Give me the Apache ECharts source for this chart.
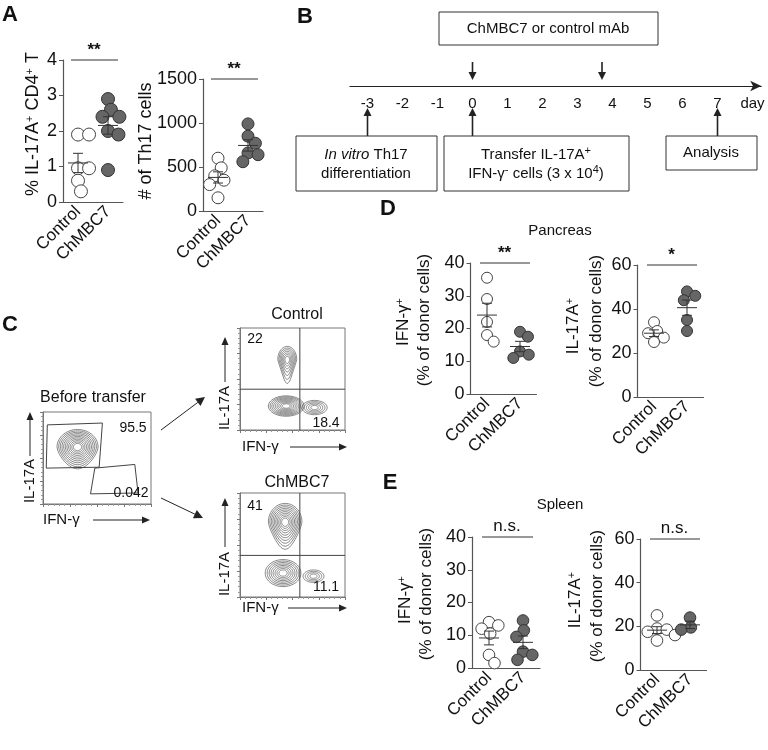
<!DOCTYPE html>
<html>
<head>
<meta charset="utf-8">
<script src="https://cdn.jsdelivr.net/npm/echarts@6/dist/echarts.min.js"></script>
<style>
  html, body { margin: 0; padding: 0; background: #fff; }
  #chart { width: 768px; height: 750px; }
</style>
</head>
<body>
<div id="chart"></div>
<script>
// ---- values ----
const groups = ['Control', 'ChMBC7'];

// A: % IL-17A+ CD4+ T and # of Th17 cells
const th17PctControl = [1.9, 1.9, 0.95, 0.95, 0.6, 0.3];
const th17PctChMBC7 = [2.9, 2.6, 2.4, 2.4, 2.0, 1.9, 0.9];
const th17CountControl = [600, 490, 400, 350, 300, 150];
const th17CountChMBC7 = [990, 850, 770, 660, 640, 560];

// D: pancreas
const pancIfngControl = [35.5, 29, 22, 18, 16];
const pancIfngChMBC7 = [19, 17.5, 13, 12, 11];
const pancIl17Control = [34, 30, 29, 27, 25];
const pancIl17ChMBC7 = [48, 46, 44, 35, 30];

// E: spleen
const splIfngControl = [14, 13, 12, 10.5, 4, 1.5];
const splIfngChMBC7 = [14.5, 11.5, 9.5, 5, 4, 2.5];
const splIl17Control = [25, 19, 18.5, 17.5, 16, 13.5];
const splIl17ChMBC7 = [24, 19.5, 18.5];

// B: timeline (days)
const dayTicks = [-3, -2, -1, 0, 1, 2, 3, 4, 5, 6, 7];
const antibodyDays = [0, 3.7];
const eventDays = [-3, 0, 7];

// C: flow plots, axis units 0-1
const beforeGates = [
  [[0.04, 0.86], [0.55, 0.88], [0.52, 0.40], [0.03, 0.39]],
  [[0.48, 0.39], [0.85, 0.43], [0.88, 0.12], [0.44, 0.11]]
];
// cx, cy, rx, ry, levels, tail (downward stretch of the contour)
const beforePops = [[0.32, 0.62, 0.19, 0.19, 11, 0.25]];
const controlPops = [[0.45, 0.69, 0.09, 0.13, 7, 0.8], [0.44, 0.235, 0.17, 0.10, 9, 0], [0.71, 0.22, 0.12, 0.07, 5, 0]];
const chmbcPops = [[0.43, 0.72, 0.16, 0.18, 10, 0.45], [0.41, 0.23, 0.17, 0.13, 8, 0], [0.70, 0.20, 0.10, 0.06, 4, 0]];
const quadrant = [0.57, 0.40];
const beforePct = ['95.5', '0.042'];
const controlPct = ['22', '18.4'];
const chmbcPct = ['41', '11.1'];

const FONT = 'Liberation Sans, Arial, sans-serif';
const INK = '#222';
const AXIS = '#555';

const chart = echarts.init(document.getElementById('chart'));
const grids = [], xAxes = [], yAxes = [], series = [], graphics = [];

// simple beeswarm so the dots do not pile on top of each other
function swarmOffsets(values, pxPerUnit, r) {
  const placed = [];
  const minD = r * 1.7;
  return values.map(v => {
    const y = v * pxPerUnit;
    const cands = [0];
    placed.forEach(p => {
      const dy = Math.abs(p.y - y);
      if (dy < minD) {
        const w = Math.sqrt(minD * minD - dy * dy);
        cands.push(p.x + w, p.x - w);
      }
    });
    cands.sort((a, b) => Math.abs(a) - Math.abs(b) || b - a);
    const x = cands.find(c => placed.every(p => Math.hypot(p.x - c, p.y - y) >= minD - 0.01));
    placed.push({ x, y });
    return x;
  });
}

function dotPanel(p) {
  const gi = grids.length;
  grids.push({ left: p.left, top: p.top, width: p.width, height: p.height, outerBoundsMode: 'none' });
  xAxes.push({
    gridIndex: gi, type: 'category', data: groups,
    axisLine: { lineStyle: { color: AXIS, width: 1.2 } },
    axisTick: { alignWithLabel: true, interval: 0, length: 4, lineStyle: { color: AXIS } },
    axisLabel: { rotate: 45, interval: 0, hideOverlap: false, fontSize: 17, color: '#111', fontFamily: FONT, margin: 7 }
  });
  yAxes.push({
    gridIndex: gi, type: 'value', min: 0, max: p.max, interval: p.step,
    splitLine: { show: false },
    axisLine: { show: true, lineStyle: { color: AXIS, width: 1.2 } },
    axisTick: { show: true, length: 4, lineStyle: { color: AXIS } },
    axisLabel: { fontSize: 18, color: '#111', fontFamily: FONT, margin: 6, formatter: v => String(v) }
  });
  const ppu = p.height / p.max;
  const pts = [];
  p.sets.forEach((vals, g) => {
    const offs = swarmOffsets(vals, ppu, p.r);
    vals.forEach((v, i) => pts.push([g, v, offs[i]]));
  });
  series.push({
    type: 'custom', xAxisIndex: gi, yAxisIndex: gi, data: pts, z: 2, clip: false,
    renderItem: (params, api) => {
      const c = api.coord([api.value(0), api.value(1)]);
      const filled = api.value(0) === 1;
      return {
        type: 'circle',
        shape: { cx: c[0] + api.value(2), cy: c[1], r: p.r },
        style: { fill: filled ? '#666' : '#fff', stroke: filled ? '#333' : '#444', lineWidth: 1 }
      };
    }
  });
  // mean and SEM
  const stats = p.sets.map((vals, g) => {
    const n = vals.length;
    const m = vals.reduce((a, b) => a + b, 0) / n;
    const sd = Math.sqrt(vals.reduce((a, b) => a + (b - m) * (b - m), 0) / (n - 1));
    return [g, m, sd / Math.sqrt(n)];
  });
  series.push({
    type: 'custom', xAxisIndex: gi, yAxisIndex: gi, data: stats, z: 3, clip: false,
    renderItem: (params, api) => {
      const g = api.value(0), m = api.value(1), se = api.value(2);
      const x = api.coord([g, m])[0];
      const ym = api.coord([g, m])[1];
      const yh = api.coord([g, m + se])[1];
      const yl = api.coord([g, m - se])[1];
      const st = { stroke: '#333', lineWidth: 1 };
      return {
        type: 'group', children: [
          { type: 'line', shape: { x1: x - 10, y1: ym, x2: x + 10, y2: ym }, style: st },
          { type: 'line', shape: { x1: x, y1: yl, x2: x, y2: yh }, style: st },
          { type: 'line', shape: { x1: x - 5, y1: yh, x2: x + 5, y2: yh }, style: st },
          { type: 'line', shape: { x1: x - 5, y1: yl, x2: x + 5, y2: yl }, style: st }
        ]
      };
    }
  });
  // significance bar
  series.push({
    type: 'custom', xAxisIndex: gi, yAxisIndex: gi, data: [[0, p.max]], z: 3, clip: false,
    renderItem: (params, api) => {
      const a = api.coord([0, p.max]);
      const b = api.coord([1, p.max]);
      const isStar = p.sig.indexOf('*') >= 0;
      return {
        type: 'group', children: [
          { type: 'line', shape: { x1: a[0] - 7, y1: a[1], x2: b[0] + 10, y2: a[1] }, style: { stroke: '#333', lineWidth: 1 } },
          {
            type: 'text', x: (a[0] + b[0]) / 2 + 1, y: a[1] - (isStar ? 1 : 2),
            style: {
              text: p.sig, fill: '#111', align: 'center', verticalAlign: 'bottom',
              font: (isStar ? 'bold 17px ' : '17px ') + FONT
            }
          }
        ]
      };
    }
  });
}

dotPanel({ left: 63, top: 60, width: 60, height: 142, max: 4, step: 1, r: 6.5, sets: [th17PctControl, th17PctChMBC7], sig: '**' });
dotPanel({ left: 203, top: 79, width: 60, height: 132, max: 1500, step: 500, r: 6, sets: [th17CountControl, th17CountChMBC7], sig: '**' });
dotPanel({ left: 470.5, top: 263, width: 66, height: 131, max: 40, step: 10, r: 5.5, sets: [pancIfngControl, pancIfngChMBC7], sig: '**' });
dotPanel({ left: 637.5, top: 265, width: 66, height: 132, max: 60, step: 20, r: 5.5, sets: [pancIl17Control, pancIl17ChMBC7], sig: '*' });
dotPanel({ left: 472, top: 537, width: 68, height: 131, max: 40, step: 10, r: 5.8, sets: [splIfngControl, splIfngChMBC7], sig: 'n.s.' });
dotPanel({ left: 640.5, top: 539, width: 66, height: 131, max: 60, step: 20, r: 5.8, sets: [splIl17Control, splIl17ChMBC7], sig: 'n.s.' });

// ---- B: timeline ----
(function () {
  const gi = grids.length;
  grids.push({ left: 350, top: 40, width: 411.25, height: 46, outerBoundsMode: 'none' });
  xAxes.push({
    gridIndex: gi, type: 'value', min: -3.5, max: 8.25, interval: 0.25,
    splitLine: { show: false }, axisTick: { show: false },
    axisLine: { lineStyle: { color: INK, width: 1.2 }, symbol: ['none', 'arrow'], symbolSize: [8, 11] },
    axisLabel: {
      fontSize: 15, color: '#111', fontFamily: FONT, margin: 10, showMinLabel: true, showMaxLabel: true,
      formatter: v => dayTicks.indexOf(v) >= 0 ? String(v) : (v === 8 ? 'day' : '')
    }
  });
  yAxes.push({ gridIndex: gi, type: 'value', min: 0, max: 1, show: false });
  const arrowGroup = (x, tipY, baseY) => {
    const dir = tipY > baseY ? 1 : -1;
    const headBase = tipY - dir * 8;
    return {
      type: 'group', children: [
        { type: 'line', shape: { x1: x, y1: baseY, x2: x, y2: headBase }, style: { stroke: INK, lineWidth: 1.6 } },
        { type: 'polygon', shape: { points: [[x, tipY], [x - 4, headBase], [x + 4, headBase]] }, style: { fill: INK } }
      ]
    };
  };
  series.push({
    type: 'custom', xAxisIndex: gi, yAxisIndex: gi, clip: false,
    data: antibodyDays.map(d => [d, 0]),
    renderItem: (params, api) => arrowGroup(api.coord([api.value(0), 0])[0], 80, 62)
  });
  series.push({
    type: 'custom', xAxisIndex: gi, yAxisIndex: gi, clip: false,
    data: eventDays.map(d => [d, 0]),
    renderItem: (params, api) => arrowGroup(api.coord([api.value(0), 0])[0], 108, 136)
  });
})();

// ---- C: flow plots ----
function flowPanel(f) {
  const gi = grids.length;
  grids.push({ left: f.left, top: f.top, width: f.width, height: f.height, show: true, borderColor: '#777', borderWidth: 1, outerBoundsMode: 'none' });
  const ax = {
    gridIndex: gi, type: 'value', min: 0, max: 1, interval: 0.25,
    splitLine: { show: false }, axisLabel: { show: false },
    axisLine: { show: true, lineStyle: { color: '#777', width: 1 } },
    axisTick: { show: true, length: 3, lineStyle: { color: '#777' } },
    minorTick: { show: true, splitNumber: 5, length: 2, lineStyle: { color: '#999' } }
  };
  xAxes.push(Object.assign({}, ax));
  yAxes.push(Object.assign({}, ax));
  series.push({
    type: 'custom', xAxisIndex: gi, yAxisIndex: gi, data: f.pops, z: 2,
    renderItem: (params, api) => {
      const c = api.coord([api.value(0), api.value(1)]);
      const s = api.size([api.value(2), api.value(3)]);
      const n = api.value(4);
      const tail = api.value(5);
      const children = [];
      for (let i = 1; i <= n; i++) {
        const k = 0.12 + 0.88 * i / n;
        const pts = [];
        for (let a = 0; a < 60; a++) {
          const t = a / 60 * Math.PI * 2;
          const down = Math.max(0, Math.sin(t));            // lower half on screen
          const sy = s[1] * k * (1 + tail * down * down * k);
          const sx = s[0] * k * (1 - 0.35 * tail * down * k);
          pts.push([c[0] + sx * Math.cos(t), c[1] + sy * Math.sin(t)]);
        }
        children.push({ type: 'polygon', shape: { points: pts, smooth: 0 }, style: { fill: 'none', stroke: '#555', lineWidth: 0.7 } });
      }
      return { type: 'group', children };
    }
  });
  if (f.gates) {
    series.push({
      type: 'custom', xAxisIndex: gi, yAxisIndex: gi, data: f.gates.map((g, i) => [i]), z: 3,
      renderItem: (params, api) => ({
        type: 'polygon',
        shape: { points: f.gates[params.dataIndex].map(pt => api.coord(pt)) },
        style: { fill: 'none', stroke: '#444', lineWidth: 1 }
      })
    });
  }
  if (f.quad) {
    series.push({
      type: 'custom', xAxisIndex: gi, yAxisIndex: gi, data: [f.quad], z: 3,
      renderItem: (params, api) => {
        const qx = api.value(0), qy = api.value(1);
        const a = api.coord([qx, 0]), b = api.coord([qx, 1]);
        const c = api.coord([0, qy]), d = api.coord([1, qy]);
        return {
          type: 'group', children: [
            { type: 'line', shape: { x1: a[0], y1: a[1], x2: b[0], y2: b[1] }, style: { stroke: '#444', lineWidth: 1 } },
            { type: 'line', shape: { x1: c[0], y1: c[1], x2: d[0], y2: d[1] }, style: { stroke: '#444', lineWidth: 1 } }
          ]
        };
      }
    });
  }
}

flowPanel({ left: 43, top: 412, width: 108, height: 92, pops: beforePops, gates: beforeGates });
flowPanel({ left: 240, top: 328, width: 105, height: 102, pops: controlPops, quad: quadrant });
flowPanel({ left: 240, top: 493, width: 105, height: 104, pops: chmbcPops, quad: quadrant });

// ---- annotations ----
const SUP = { s: { fontSize: 11, lineHeight: 10, verticalAlign: 'top', fontFamily: FONT, fill: '#111' } };
function text(x, y, str, opt) {
  opt = opt || {};
  graphics.push({
    type: 'text', x, y, rotation: opt.rot || 0, z: 10,
    style: {
      text: str, fill: '#111', font: (opt.weight || '') + ' ' + (opt.size || 15) + 'px ' + FONT,
      align: opt.align || 'center', verticalAlign: 'middle', rich: opt.rich, lineHeight: opt.lh
    }
  });
}
function arrow(x1, y1, x2, y2, head, w) {
  head = head || 8; w = w || 3.5;
  const ang = Math.atan2(y2 - y1, x2 - x1);
  const bx = x2 - head * Math.cos(ang), by = y2 - head * Math.sin(ang);
  const nx = -Math.sin(ang) * w, ny = Math.cos(ang) * w;
  graphics.push({ type: 'line', z: 10, shape: { x1, y1, x2: bx, y2: by }, style: { stroke: INK, lineWidth: 1 } });
  graphics.push({ type: 'polygon', z: 10, shape: { points: [[x2, y2], [bx + nx, by + ny], [bx - nx, by - ny]] }, style: { fill: INK } });
}
function box(x1, y1, x2, y2) {
  graphics.push({ type: 'rect', z: 9, shape: { x: x1, y: y1, width: x2 - x1, height: y2 - y1 }, style: { fill: '#fff', stroke: '#333', lineWidth: 1 } });
}

// panel letters
[['A', 10, 15], ['B', 305, 17], ['C', 10, 325], ['D', 388, 209], ['E', 390, 483]].forEach(l => text(l[1], l[2], l[0], { size: 22, weight: 'bold' }));

// y-axis titles of the dot plots
const ROT = Math.PI / 2;
text(33, 124, '% IL-17A{s|+} CD4{s|+} T', { size: 18, rot: ROT, rich: SUP });
text(146, 141, '# of Th17 cells', { size: 18, rot: ROT });
text(403, 322, 'IFN-γ{s|+}', { size: 17, rot: ROT, rich: SUP });
text(424, 320, '(% of donor cells)', { size: 17, rot: ROT });
text(573, 326, 'IL-17A{s|+}', { size: 17, rot: ROT, rich: SUP });
text(596, 321, '(% of donor cells)', { size: 17, rot: ROT });
text(405, 600, 'IFN-γ{s|+}', { size: 17, rot: ROT, rich: SUP });
text(426, 594, '(% of donor cells)', { size: 17, rot: ROT });
text(575, 600, 'IL-17A{s|+}', { size: 17, rot: ROT, rich: SUP });
text(597, 596, '(% of donor cells)', { size: 17, rot: ROT });
text(560, 231, 'Pancreas', { size: 15 });
text(560, 505, 'Spleen', { size: 15 });

// B boxes
box(439, 12, 658, 45); text(548, 29, 'ChMBC7 or control mAb', { size: 15 });
box(296, 136, 437, 191);
text(366, 164, '{i|In vitro} Th17\ndifferentiation', { size: 15, lh: 19, rich: { i: { fontStyle: 'italic', fontSize: 15, fontFamily: FONT, fill: '#111', lineHeight: 19 } } });
box(444, 136, 629, 191);
text(536, 164, 'Transfer IL-17A{s|+}\nIFN-γ{s|-} cells (3 x 10{s|4})', { size: 15, lh: 19, rich: SUP });
box(666, 136, 757, 170); text(711, 153, 'Analysis', { size: 15 });

// C flow plot labels
text(93, 398, 'Before transfer', { size: 16 });
text(297, 315, 'Control', { size: 16 });
text(297, 483, 'ChMBC7', { size: 16 });
text(133, 428, beforePct[0], { size: 14 });
text(131, 493, beforePct[1], { size: 14 });
text(255, 339, controlPct[0], { size: 14 });
text(326, 423, controlPct[1], { size: 14 });
text(255, 506, chmbcPct[0], { size: 14 });
text(326, 587, chmbcPct[1], { size: 14 });
text(30, 481, 'IL-17A', { size: 15, rot: ROT });
text(225, 408, 'IL-17A', { size: 15, rot: ROT });
text(225, 574, 'IL-17A', { size: 15, rot: ROT });
text(43, 520, 'IFN-γ', { size: 15, align: 'left' });
text(242, 447, 'IFN-γ', { size: 15, align: 'left' });
text(242, 608, 'IFN-γ', { size: 15, align: 'left' });
arrow(30, 456, 30, 412);
arrow(225, 382, 225, 337);
arrow(225, 547, 225, 498);
arrow(93, 520, 150, 520);
arrow(290, 447, 347, 447);
arrow(288, 608, 347, 608);
arrow(161, 430, 205, 397, 9, 4.5);
arrow(161, 498, 203, 518, 9, 4.5);

chart.setOption({
  animation: false,
  backgroundColor: '#fff',
  textStyle: { fontFamily: FONT },
  grid: grids,
  xAxis: xAxes,
  yAxis: yAxes,
  series: series,
  graphic: { elements: graphics }
});
</script>
</body>
</html>
